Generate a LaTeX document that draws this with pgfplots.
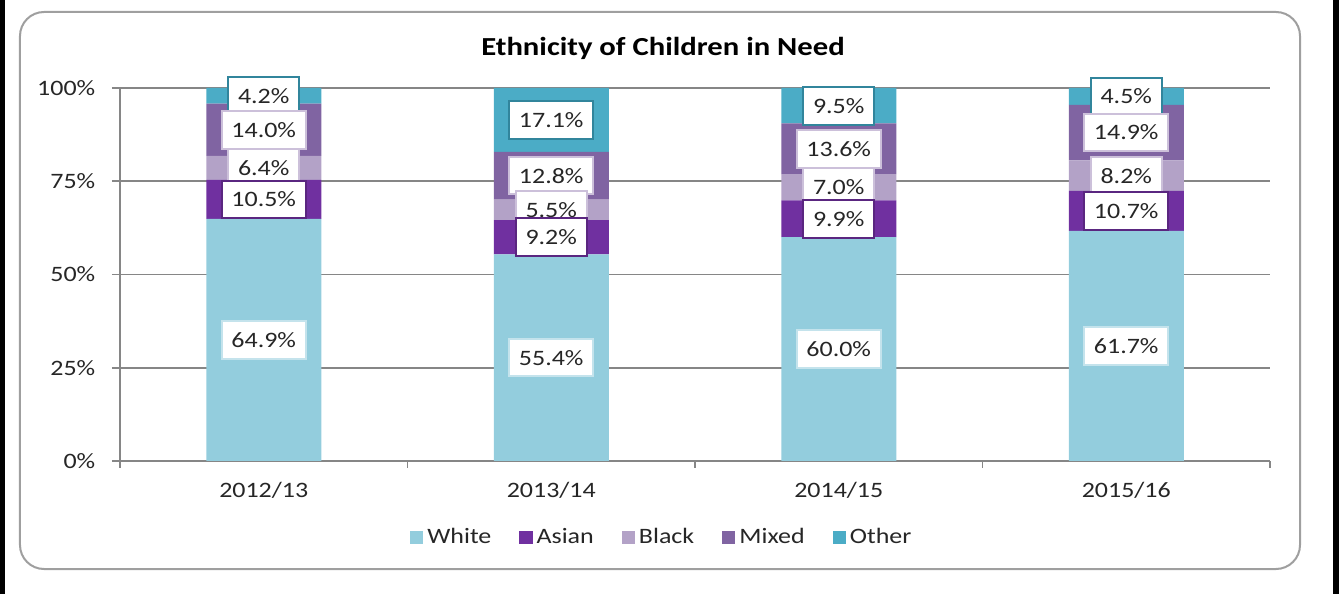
\documentclass[border=0pt]{standalone}
\usepackage{fontspec}
\setmainfont{Carlito}[FakeStretch=1.18]
\usepackage{pgfplots}
\usepackage{pgfplotstable}
\pgfplotsset{compat=1.18}
\definecolor{cWhite}{HTML}{93CDDD}
\definecolor{cAsian}{HTML}{7030A0}
\definecolor{cBlack}{HTML}{B3A2C7}
\definecolor{cMixed}{HTML}{8064A2}
\definecolor{cOther}{HTML}{4BACC6}
\definecolor{bWhite}{HTML}{C4E3EC}
\definecolor{bAsian}{HTML}{5A2680}
\definecolor{bBlack}{HTML}{CCC0DA}
\definecolor{bMixed}{HTML}{CCC0DA}
\definecolor{bOther}{HTML}{31859C}
\definecolor{axgray}{HTML}{868686}
\definecolor{txt}{HTML}{262626}
\pgfplotstableread{
x White Asian Black Mixed Other
0 64.9 10.5 6.4 14.0 4.2
1 55.4 9.2 5.5 12.8 17.1
2 60.0 9.9 7.0 13.6 9.5
3 61.7 10.7 8.2 14.9 4.5
}\data
\pgfplotsset{
  lab/.style 2 args={
    nodes near coords={\pgfmathprintnumber[fixed,fixed zerofill,precision=1]{\val}\%},
    visualization depends on={\thisrow{#1} \as \val},
    every node near coord/.style={anchor=center,
      fill=white, draw=#2, line width=1pt, inner xsep=4.8pt, inner ysep=5.6pt, text=txt,
      font=\fontsize{11}{13}\selectfont},
  },
}
\begin{document}
\fontsize{11}{13}\selectfont
\begin{tikzpicture}[font=\fontsize{11}{13}\selectfont]
\begin{axis}[
  set layers, mark layer=axis foreground,
  /pgf/number format/assume math mode=true,
  scale only axis, width=575pt, height=186.5pt,
  ybar stacked, bar width=57.5pt,
  xmin=-0.5, xmax=3.5, ymin=0, ymax=100,
  axis x line*=bottom, axis y line*=left,
  axis line style={axgray, line width=0.8pt},
  ytick={0,25,50,75,100},
  yticklabels={0\%,25\%,50\%,75\%,100\%},
  xtick={0,1,2,3},
  xticklabels={2012/13,2013/14,2014/15,2015/16},
  minor xtick={-0.5,0.5,1.5,2.5,3.5},
  tick align=outside,
  major x tick style={draw=none},
  minor x tick style={axgray, line width=0.8pt},
  y tick style={axgray, line width=0.8pt},
  major tick length=4pt, minor tick length=3.5pt,
  ymajorgrids, grid style={axgray, line width=0.8pt},
  yticklabel style={text=txt, xshift=-4.5pt},
  xticklabel style={text=txt, yshift=-2.5pt},
  title={Ethnicity of Children in Need},
  title style={anchor=center, at={(axis description cs:0.5,1)}, yshift=14pt, xshift=-16pt,
    font=\bfseries\fontsize{13}{15}\selectfont, text=black},
  legend columns=5,
  legend style={draw=none, fill=none, at={(axis description cs:0.472,-0.206)}, anchor=center,
    font=\fontsize{11}{13}\selectfont, text=txt,
    /tikz/every even column/.append style={column sep=12pt}},
  legend image code/.code={\fill[#1] (0pt,-3.3pt) rectangle (6.6pt,3.3pt);},
]
\addplot[fill=cWhite, draw=none, lab={White}{bWhite}] table[x=x,y=White]{\data};
\addplot[fill=cAsian, draw=none, lab={Asian}{bAsian}] table[x=x,y=Asian]{\data};
\addplot[fill=cBlack, draw=none, lab={Black}{bBlack}] table[x=x,y=Black]{\data};
\addplot[fill=cMixed, draw=none, lab={Mixed}{bMixed}] table[x=x,y=Mixed]{\data};
\addplot[fill=cOther, draw=none, lab={Other}{bOther}] table[x=x,y=Other]{\data};
\legend{White,Asian,Black,Mixed,Other}
\end{axis}
\draw[gray!75, line width=1pt, rounded corners=12pt] (-50pt,-54pt) rectangle (590pt,224.5pt);
\fill[black] (-60pt,-66.5pt) rectangle (-57.5pt,230.5pt);
\fill[black] (606.5pt,-66.5pt) rectangle (609.5pt,230.5pt);
\end{tikzpicture}
\end{document}
